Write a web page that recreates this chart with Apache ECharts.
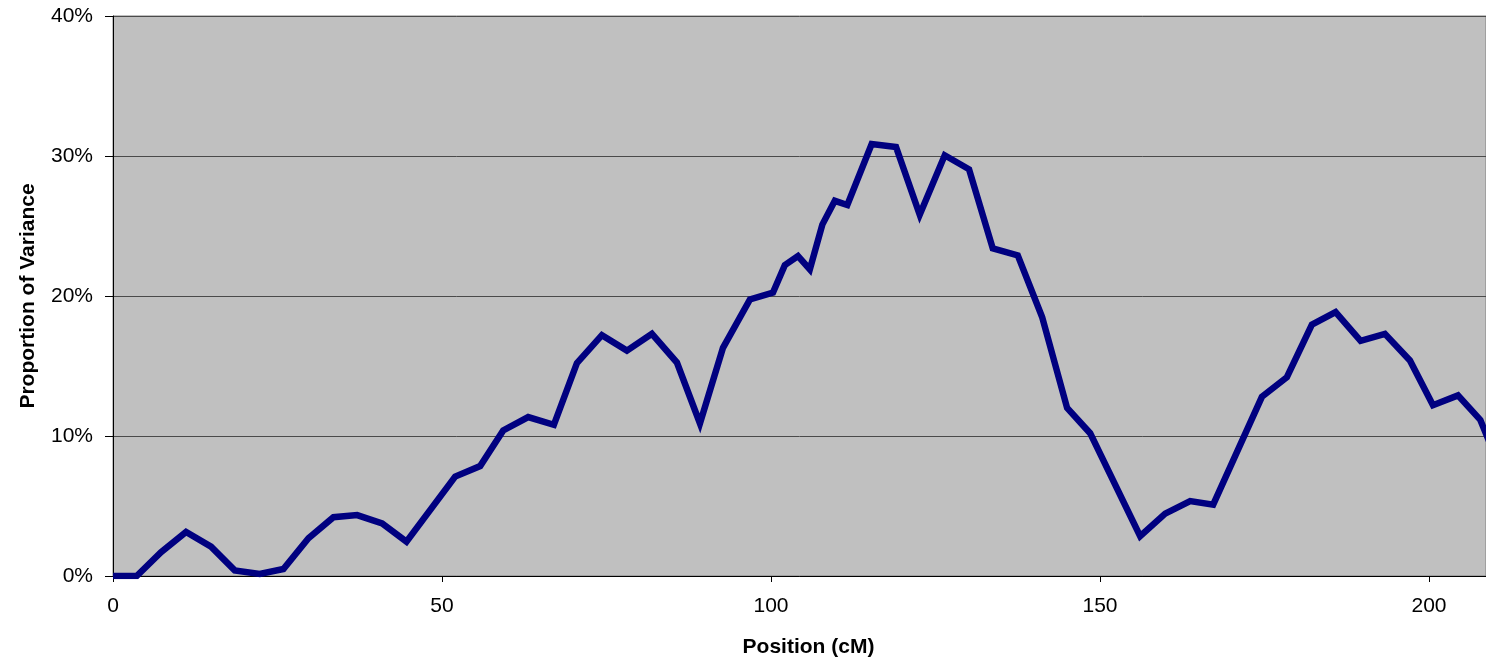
<!DOCTYPE html>
<html>
<head>
<meta charset="utf-8">
<script src="https://cdn.jsdelivr.net/npm/echarts@6/dist/echarts.min.js"></script>
<style>
  html, body { margin: 0; padding: 0; background: #ffffff; }
  #chart { width: 1486px; height: 660px; }
</style>
</head>
<body>
<div id="chart"></div>
<script>
// Map position along the linkage group (cM)
const positions = [0, 3.6, 7.3, 11.1, 14.9, 18.5, 22.3, 25.9, 29.7, 33.5, 37.1, 40.9, 44.6,
  52.0, 55.8, 59.3, 63.1, 67.0, 70.5, 74.3, 78.1, 81.9, 85.7, 89.2, 92.7, 96.8, 100.3,
  102.1, 104.1, 105.9, 107.8, 109.7, 111.6, 115.3, 119.0, 122.6, 126.4, 130.1, 133.7,
  137.5, 141.2, 145.0, 148.5, 156.1, 159.9, 163.7, 167.2, 174.6, 178.4, 182.2, 185.8,
  189.6, 193.3, 197.1, 200.6, 204.4, 207.8, 211.6];

// Proportion of phenotypic variance explained at each position (%)
const variance = [0, 0, 1.7, 3.15, 2.1, 0.4, 0.15, 0.5, 2.7, 4.2, 4.35, 3.75, 2.45,
  7.1, 7.85, 10.4, 11.35, 10.8, 15.2, 17.2, 16.1, 17.3, 15.25, 10.9, 16.3, 19.75, 20.25,
  22.2, 22.85, 21.9, 25.1, 26.8, 26.5, 30.85, 30.65, 25.8, 30.05, 29.05, 23.4,
  22.9, 18.5, 12.0, 10.2, 2.85, 4.45, 5.35, 5.1, 12.8, 14.2, 17.95, 18.85,
  16.8, 17.3, 15.4, 12.2, 12.9, 11.15, 6.8];

const xTicks = [0, 50, 100, 150, 200];
const yTicks = [0, 10, 20, 30, 40];

const points = positions.map((p, i) => [p, variance[i]]);

const chart = echarts.init(document.getElementById('chart'), null, { renderer: 'canvas' });
const font = '"Liberation Sans", Arial, sans-serif';

chart.setOption({
  animation: false,
  grid: {
    left: 113, right: 0, top: 16, bottom: 84,
    containLabel: false,
    outerBoundsMode: 'none',
    show: true,
    backgroundColor: '#C0C0C0',
    borderColor: '#808080',
    borderWidth: 1
  },
  xAxis: {
    type: 'value',
    min: 0,
    max: 208.66,
    interval: 50,
    name: 'Position (cM)',
    nameLocation: 'middle',
    nameGap: 61,
    nameTextStyle: { fontFamily: font, fontSize: 21, fontWeight: 'bold', color: '#000', padding: [0, 0, 0, 18] },
    axisLine: { show: true, lineStyle: { color: '#000', width: 1 } },
    axisTick: { show: true, length: 6, lineStyle: { color: '#000' } },
    axisLabel: {
      fontFamily: font, fontSize: 21, color: '#000', margin: 20,
      showMaxLabel: false,
      formatter: v => (xTicks.indexOf(v) >= 0 ? String(v) : '')
    },
    splitLine: { show: false }
  },
  yAxis: {
    type: 'value',
    min: yTicks[0],
    max: yTicks[yTicks.length - 1],
    interval: 10,
    name: 'Proportion of Variance',
    nameLocation: 'middle',
    nameGap: 74,
    nameTextStyle: { fontFamily: font, fontSize: 21, fontWeight: 'bold', color: '#000' },
    axisLine: { show: true, lineStyle: { color: '#000', width: 1 } },
    axisTick: { show: true, length: 8, lineStyle: { color: '#000' } },
    axisLabel: { fontFamily: font, fontSize: 21, color: '#000', margin: 20, formatter: '{value}%' },
    splitLine: { show: true, lineStyle: { color: '#4a4a4a', width: 1 } }
  },
  series: [{
    type: 'line',
    data: points,
    showSymbol: false,
    symbol: 'none',
    clip: true,
    lineStyle: { color: '#000080', width: 6.5, join: 'miter' }
  }]
});
</script>
</body>
</html>
